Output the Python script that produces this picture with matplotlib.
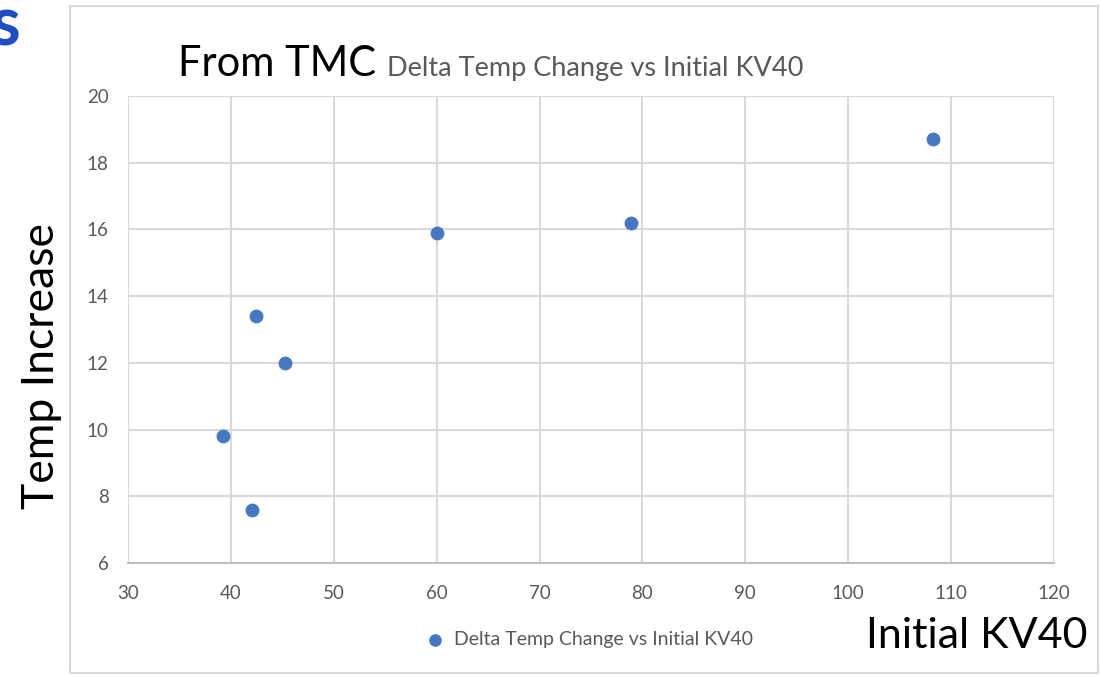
import matplotlib.pyplot as plt
from matplotlib.patches import Rectangle

kv40 = [39.2, 42.1, 42.4, 45.3, 60.0, 78.9, 108.2]
temp_increase = [9.8, 7.6, 13.4, 12.0, 15.9, 16.2, 18.7]
series_name = "Delta Temp Change vs Initial KV40"

plt.rcParams['font.family'] = ['Lato', 'DejaVu Sans']

fig = plt.figure(figsize=(11.01, 6.76), dpi=100)
ax = fig.add_axes([128/1101, 1-563/676, (1054-128)/1101, (563-96)/676])

ax.scatter(kv40, temp_increase, s=80, color="#4677C0", zorder=3, label=series_name, clip_on=False)

ax.set_xlim(30, 120)
ax.set_ylim(6, 20)
ax.set_xticks(range(30, 121, 10))
ax.set_yticks(range(6, 21, 2))
ax.grid(True, color="#d9d9d9", linewidth=1.5)
ax.set_axisbelow(True)
for s in ["top", "right", "left"]:
    ax.spines[s].set_visible(False)
ax.spines["bottom"].set_color("#bfbfbf")
ax.spines["bottom"].set_linewidth(1.5)
ax.tick_params(length=0, labelsize=13.5, labelcolor="#595959")
ax.tick_params(axis="x", pad=16)
ax.tick_params(axis="y", pad=14)

# chart area border
fig.add_artist(Rectangle((70/1101, 1-673/676), (1098-70)/1101, (673-6)/676,
                         transform=fig.transFigure, fill=False, edgecolor="#d9d9d9", linewidth=1.5))

# titles
fig.text(178/1101, 1-76/676, "From TMC", fontsize=30, color="black", va="baseline")
fig.text(387/1101, 1-76/676, series_name, fontsize=19.5, color="#595959", va="baseline")
fig.text(42/1101, 1-366/676, "Temp Increase", fontsize=32, rotation=90, ha="center", va="center")
fig.text(1087/1101, 1-648/676, "Initial KV40", fontsize=31, ha="right", va="baseline")

# partial slide title letter
fig.text(20/1101, 1-45/676, "s", fontsize=49, fontweight="bold", color="#1f4ec2", ha="right", va="baseline")

ax.legend(loc="center", bbox_to_anchor=(584/1101, 1-640/676), bbox_transform=fig.transFigure,
          frameon=False, fontsize=14, labelcolor="#595959", handletextpad=0.0, markerscale=0.9)

fig.savefig("out.png", dpi=100)
